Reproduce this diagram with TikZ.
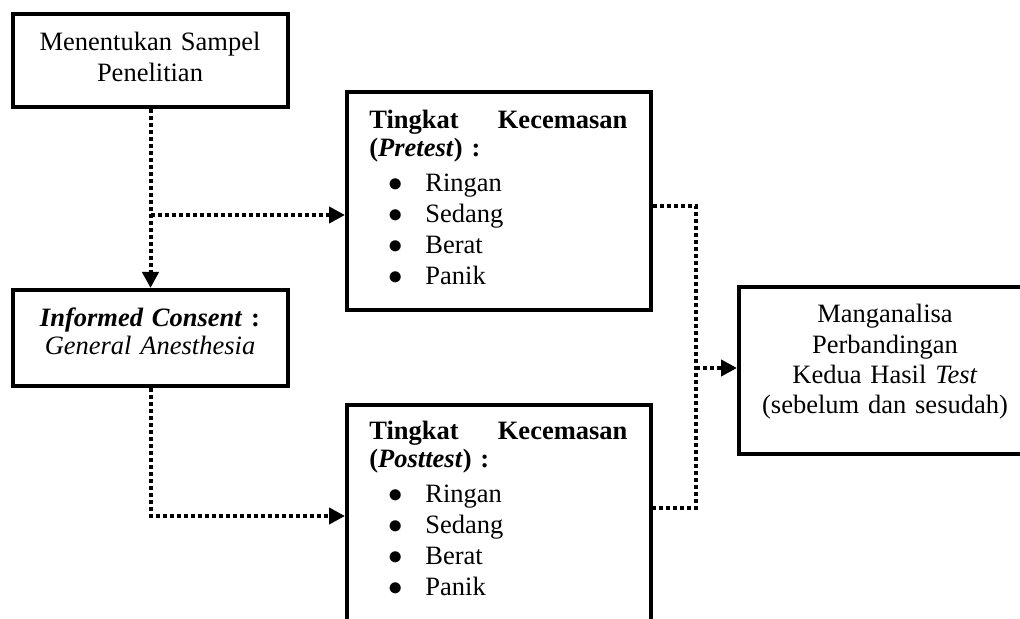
\documentclass[tikz,border=0pt]{standalone}
\usepackage{fontspec}
\setmainfont{Liberation Serif}
\usetikzlibrary{arrows.meta,calc}
\newcommand\fsz[1]{\fontsize{13.25pt}{#1}\selectfont}
\newcommand\itm{\hspace*{9.5pt}\makebox[18.5pt][l]{$\bullet$}}
\begin{document}
\begin{tikzpicture}[x=0.5pt,y=-0.5pt,
  box/.style={draw, line width=2pt, rectangle, inner sep=0pt, anchor=center},
  txt/.style={inner sep=0pt, text width=#1},
  link/.style={line width=2pt, dash pattern=on 2pt off 1.5pt},
  conn/.style={link, -{Triangle[length=8pt,width=8pt]}}]
\path[use as bounding box] (0,0) rectangle (1020,619);
\clip (0,0) rectangle (1020,619);
% boxes
\node[box, minimum width=137.5pt, minimum height=46.5pt] (b1) at (150.5,60.5) {};
\node[box, minimum width=137.5pt, minimum height=48pt] (b2) at (150.5,338) {};
\node[box, minimum width=151.75pt, minimum height=108.75pt] (pre) at (498.75,201.25) {};
\node[box, minimum width=151.75pt, minimum height=110pt] (post) at (498.75,514.7) {};
\node[box, minimum width=146pt, minimum height=83.5pt] (res) at (885,370.5) {};
% texts
\node[txt=125pt, align=center, anchor=base, font=\fsz{15.5pt}] (t1) at (150,50.5)
  {Menentukan Sampel\\Penelitian};
\node[txt=125pt, align=center, anchor=base, font=\fsz{14pt}] (t2) at (150,327)
  {\textbf{\textit{Informed Consent}} \textbf{:}\\\textit{General Anesthesia}};
\node[txt=129pt, align=left, anchor=base west, font=\fsz{14pt}] (t3) at (369,129)
  {\textbf{Tingkat}\hfill\textbf{Kecemasan}\\
   \textbf{(\textit{Pretest}) :}\\[3.5pt]
   \itm Ringan\\[1.5pt]
   \itm Sedang\\[1.5pt]
   \itm Berat\\[1.5pt]
   \itm Panik};
\node[txt=129pt, align=left, anchor=base west, font=\fsz{14pt}] (t4) at (369,439.5)
  {\textbf{Tingkat}\hfill\textbf{Kecemasan}\\
   \textbf{(\textit{Posttest}) :}\\[3.5pt]
   \itm Ringan\\[1.5pt]
   \itm Sedang\\[1.5pt]
   \itm Berat\\[1.5pt]
   \itm Panik};
\node[txt=145pt, align=center, anchor=base, font=\fsz{15pt}] (t5) at (885,323)
  {Manganalisa\\Perbandingan\\Kedua Hasil \textit{Test}\\(sebelum dan sesudah)};
% connectors
\coordinate (j1) at (150.5,215);
\coordinate (k2) at (150.5,516);
\coordinate (r1) at (695.5,206);
\coordinate (r2) at (695.5,508);
\coordinate (r3) at (695.5,368);
\draw[conn] (b1.south) -- (b2.north);
\draw[conn] (j1) -- (j1 -| pre.west);
\draw[conn] (b2.south) -- (k2) -- (k2 -| post.west);
\draw[link] (r1 -| pre.east) -- (r1) -- (r2) -- (r2 -| post.east);
\draw[conn] (r3) -- (r3 -| res.west);
\end{tikzpicture}
\end{document}
